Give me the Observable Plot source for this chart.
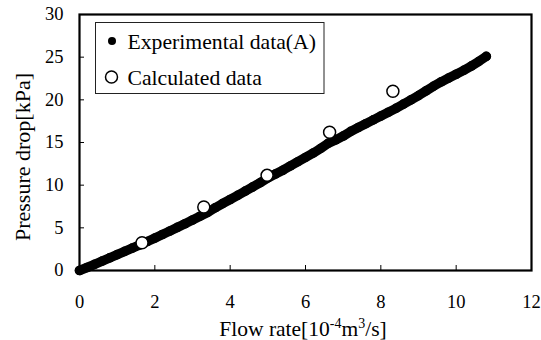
<!DOCTYPE html>
<html>
<head>
<meta charset="utf-8">
<script src="https://cdn.jsdelivr.net/npm/d3@7"></script>
<script src="https://cdn.jsdelivr.net/npm/@observablehq/plot@0.6"></script>
<style>
  html, body { margin: 0; padding: 0; background: #fff; }
  #chart svg { display: block; }
  #chart svg text { font-family: 'Liberation Serif', 'Times New Roman', serif !important; }
</style>
</head>
<body>
<div id="chart"></div>
<script>
// Experimental data (A): flow rate [10^-4 m^3/s] and pressure drop [kPa]
const expFlow = [0.0,0.2,0.4,0.6,0.8,1.0,1.2,1.4,1.6,1.8,2.0,2.2,2.4,2.6,2.8,3.0,3.2,3.4,3.6,3.8,4.0,4.2,4.4,4.6,4.8,5.0,5.2,5.4,5.6,5.8,6.0,6.2,6.4,6.6,6.8,7.0,7.2,7.4,7.6,7.8,8.0,8.2,8.4,8.6,8.8,9.0,9.2,9.4,9.6,9.8,10.0,10.2,10.4,10.6,10.8];
const expDrop = [0.0,0.35,0.72,1.1,1.48,1.86,2.24,2.62,3.0,3.4,3.8,4.22,4.63,5.05,5.48,5.92,6.36,6.8,7.35,7.85,8.32,8.8,9.3,9.8,10.3,10.85,11.3,11.75,12.25,12.75,13.25,13.75,14.3,14.9,15.3,15.75,16.3,16.75,17.2,17.65,18.1,18.55,19.0,19.5,20.0,20.5,21.05,21.6,22.1,22.55,23.0,23.45,23.95,24.5,25.1];
// Calculated data
const calcFlow = [1.66, 3.30, 4.98, 6.64, 8.32];
const calcDrop = [3.25, 7.45, 11.15, 16.2, 21.0];
// Axis ticks
const xTicks = [0, 2, 4, 6, 8, 10, 12];
const yTicks = [0, 5, 10, 15, 20, 25, 30];
const legendLabels = ["Experimental data(A)", "Calculated data"];

const expData = expFlow.map((x, i) => ({x, y: expDrop[i]}));
const calcData = calcFlow.map((x, i) => ({x, y: calcDrop[i]}));

const serif = "'Liberation Serif', 'Times New Roman', serif";

const chart = Plot.plot({
  width: 541,
  height: 340,
  marginLeft: 79,
  marginRight: 10,
  marginTop: 14,
  marginBottom: 70,
  style: {fontFamily: serif, fontSize: "18.5px", color: "black", background: "white"},
  x: {domain: [0, 12]},
  y: {domain: [0, 30]},
  marks: [
    Plot.axisX({ticks: xTicks, tickSize: -5, tickPadding: 29, label: null, fontSize: 18.5, strokeWidth: 1}),
    Plot.axisY({ticks: yTicks, tickSize: -5, tickPadding: 21, label: null, fontSize: 18.5, strokeWidth: 1}),
    Plot.frame({stroke: "black", strokeWidth: 2.2}),
    Plot.line(expData, {x: "x", y: "y", stroke: "black", strokeWidth: 9.5, strokeLinecap: "round", strokeLinejoin: "round"}),
    Plot.dot(expData, {x: "x", y: "y", r: 4.8, fill: "black"}),
    Plot.dot(calcData, {x: "x", y: "y", r: 6, fill: "white", stroke: "black", strokeWidth: 1.5})
  ]
});

const svg = d3.select(chart);
svg.attr("font-family", serif);
// Legend
const lg = svg.append("g").attr("class", "legend").attr("text-anchor", "start");
lg.append("rect").attr("x", 95.5).attr("y", 22.5).attr("width", 228.5).attr("height", 71)
  .attr("fill", "white").attr("stroke", "#222").attr("stroke-width", 1);
lg.append("circle").attr("cx", 112).attr("cy", 41).attr("r", 4).attr("fill", "black");
lg.append("circle").attr("cx", 111.5).attr("cy", 77).attr("r", 6).attr("fill", "white").attr("stroke", "black").attr("stroke-width", 1.5);
lg.append("text").attr("x", 127.5).attr("y", 48.5).attr("text-anchor", "start").attr("font-size", 21.7).attr("fill", "black").text(legendLabels[0]);
lg.append("text").attr("x", 127.5).attr("y", 84.5).attr("text-anchor", "start").attr("font-size", 21.7).attr("fill", "black").text(legendLabels[1]);

// Axis titles
const xt = svg.append("text").attr("x", 303).attr("y", 336).attr("text-anchor", "middle")
  .attr("font-size", 21.5).attr("fill", "black");
xt.append("tspan").text("Flow rate[10");
xt.append("tspan").attr("dy", -8).attr("font-size", 14).text("-4");
xt.append("tspan").attr("dy", 8).text("m");
xt.append("tspan").attr("dy", -8).attr("font-size", 14).text("3");
xt.append("tspan").attr("dy", 8).text("/s]");

svg.append("text").attr("transform", "translate(30,157) rotate(-90)").attr("text-anchor", "middle")
  .attr("font-size", 22).attr("fill", "black").text("Pressure drop[kPa]");

svg.selectAll("text").style("font-family", serif);

document.getElementById("chart").appendChild(chart);
</script>
</body>
</html>
